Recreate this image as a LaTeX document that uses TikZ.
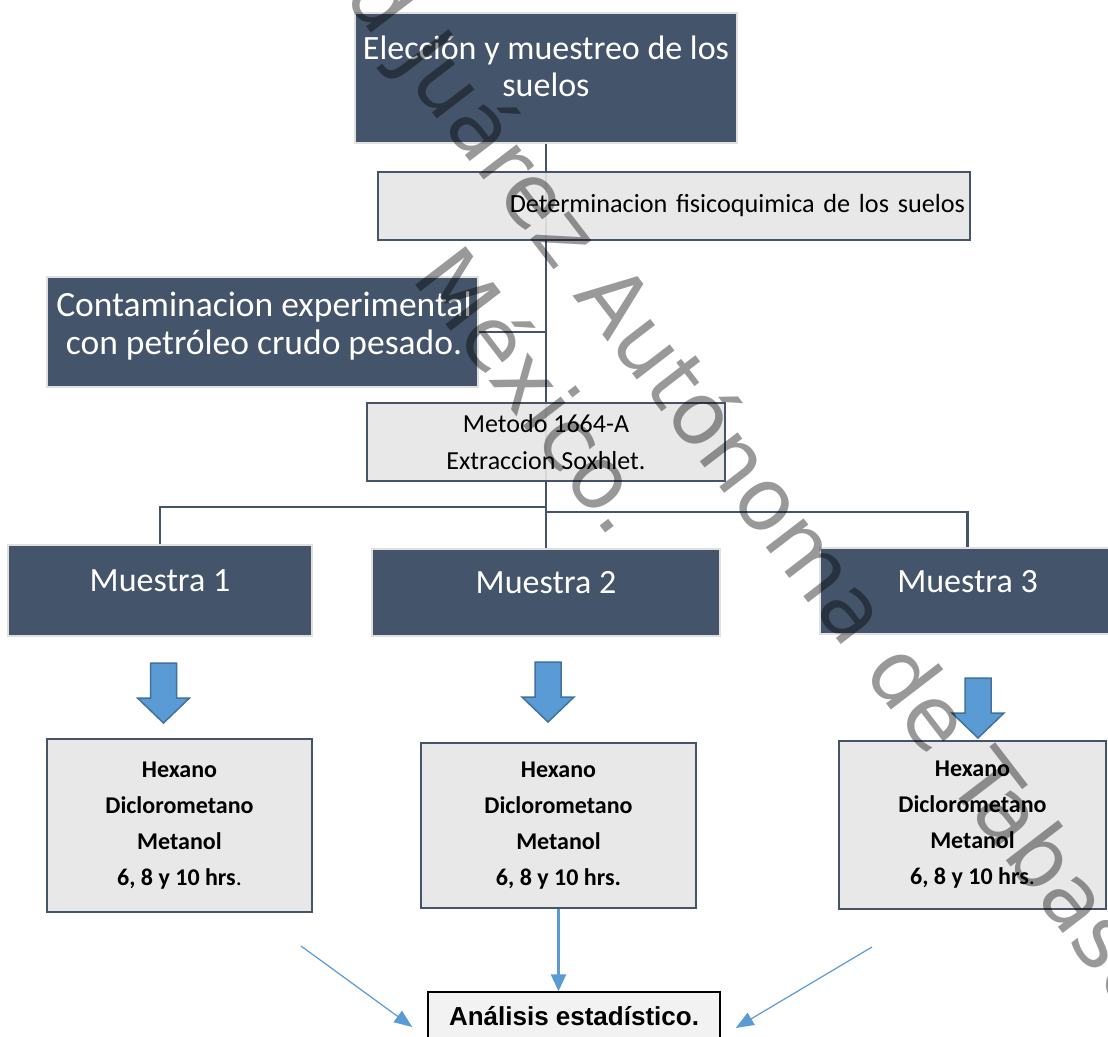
\documentclass[tikz,border=0pt]{standalone}
\usepackage{fontspec}
\setmainfont{Carlito}
\newfontfamily\arialfont{Liberation Sans}
\newfontfamily\marcafont{DejaVu Sans}
\usetikzlibrary{arrows.meta}
\definecolor{pizarra}{HTML}{44546A}
\definecolor{grisclaro}{HTML}{E7E6E6}
\definecolor{azul}{HTML}{5B9BD5}
\definecolor{azulborde}{HTML}{41719C}

\begin{document}
\begin{tikzpicture}[x=1pt, y=-1pt,
  cajaoscura/.style={draw=black!12, line width=2pt, fill=pizarra, text=white, inner sep=0pt},
  cajaclara/.style={draw=pizarra, line width=2.5pt, fill=grisclaro, fill opacity=.9, text opacity=1, inner sep=0pt},
  blanco/.style={text=white, inner sep=0pt},
  conector/.style={draw=pizarra, line width=2.5pt},
  flechabloque/.style={fill=azul, draw=azulborde, line width=1.5pt, line join=miter},
  flechafina/.style={draw=azul, line width=1.2pt, -{Triangle[length=18pt, width=14pt]}},
  marca/.style={font=\marcafont\fontsize{87}{100}\selectfont, text=black, text opacity=.4, inner sep=0pt, rotate=-52.5, anchor=base west}]
  \useasboundingbox (0,0) rectangle (1108,1036);
  \fill[white] (0,0) rectangle (1108,1036);
  \clip (0,0) rectangle (1108,1036);

  % tronco y ramas
  \coordinate (ramaI) at (546,507);
  \coordinate (ramaD) at (546,512);
  \draw[conector] (546,143) -- (546,549);
  \draw[conector] (ramaI) -| (160,545);
  \draw[conector] (ramaD) -| (967.5,548);
  \draw[conector] (478,332) -- (546,332);

  % cajas de arriba
  \node[cajaoscura, minimum width=382pt, minimum height=130pt] (eleccion) at (546,78) {};
  \node[blanco, align=center, font=\fontsize{34}{37}\selectfont] (eleccionT) at (546,66) {Elección y muestreo de los\\suelos};
  \node[cajaclara, minimum width=592pt, minimum height=68pt, text width=582pt, align=right,
        font=\fontsize{26.2}{30}\selectfont] (determinacion) at (674,206) {Determinacion fisicoquimica de los suelos};
  \node[cajaoscura, minimum width=431pt, minimum height=110pt] (contaminacion) at (262.5,332) {};
  \node[blanco, align=center, font=\fontsize{35.5}{38}\selectfont] (contaminacionT) at (264,326) {Contaminacion experimental\\con petróleo crudo pesado.};
  \node[cajaclara, minimum width=358pt, minimum height=78pt, align=center,
        font=\fontsize{26}{37}\selectfont] (metodo) at (546,442) {Metodo 1664-A\\Extraccion Soxhlet.};

  % muestras
  \begin{scope}[every node/.style={cajaoscura, font=\fontsize{34}{37}\selectfont, text height=22pt, text depth=20pt}]
    \node[minimum width=304pt, minimum height=91pt] (muestra1) at (160,590.5) {Muestra 1};
    \node[minimum width=348pt, minimum height=87pt] (muestra2) at (546,592.5) {Muestra 2};
    \node[minimum width=295pt, minimum height=86pt] (muestra3) at (967.5,591) {Muestra 3};
  \end{scope}

  \foreach \x/\y in {163.5/663, 548/662, 978/678}
    \draw[flechabloque] (\x-13,\y) -- (\x+13,\y) -- (\x+13,\y+35) -- (\x+26,\y+35)
      -- (\x,\y+60) -- (\x-26,\y+35) -- (\x-13,\y+35) -- cycle;

  % disolventes
  \begin{scope}[every node/.style={cajaclara, align=center, font=\bfseries\fontsize{24}{36}\selectfont}]
    \node[minimum width=265pt, minimum height=173pt] (solvA) at (179.5,825.5) {Hexano\\Diclorometano\\Metanol\\6, 8 y 10 hrs{\mdseries.}};
    \node[minimum width=275pt, minimum height=165pt] (solvB) at (558.5,825.5) {Hexano\\Diclorometano\\Metanol\\6, 8 y 10 hrs.};
    \node[minimum width=267pt, minimum height=168pt] (solvC) at (972.5,825) {Hexano\\Diclorometano\\Metanol\\6, 8 y 10 hrs{\mdseries.}};
  \end{scope}

  \node[draw=black, line width=1.5pt, fill=black!5, inner sep=0pt, minimum width=292pt, minimum height=48pt,
        font=\arialfont\bfseries\fontsize{26}{30}\selectfont] (analisis) at (574,1016) {Análisis estadístico.};

  \coordinate (desdeA) at (301,946);
  \coordinate (desdeC) at (872,947);
  \draw[flechafina] (desdeA) -- ([xshift=-15pt, yshift=-11pt]analisis.west);
  \draw[flechafina] (desdeC) -- ([xshift=15pt, yshift=-12pt]analisis.east);
  \draw[azul, line width=2.5pt, -{Triangle[length=17pt, width=15pt]}] (solvB.south) -- (solvB.south |- analisis.north);

  % marca de agua
  \node[marca] (marca1) at (393,61) {\llap{Universidad\ }Juárez Autónoma de Tabasco};
  \node[marca] (marca2) at (410,278) {México.};
\end{tikzpicture}
\end{document}
